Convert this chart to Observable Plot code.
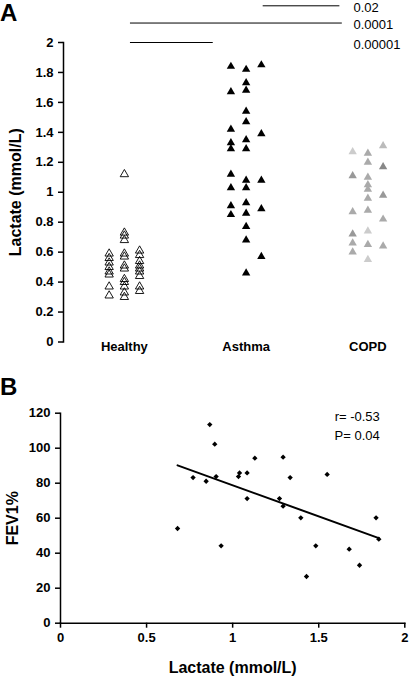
<!DOCTYPE html>
<html>
<head>
<meta charset="utf-8">
<script src="https://cdn.jsdelivr.net/npm/d3@7"></script>
<script src="https://cdn.jsdelivr.net/npm/@observablehq/plot@0.6"></script>
<style>
  html, body { margin: 0; padding: 0; background: #fff; }
  #wrap { position: relative; width: 412px; height: 680px; font-family: "Liberation Sans", Arial, sans-serif; }
  .panel { position: absolute; left: 0; font-weight: bold; font-size: 24px; line-height: 1; }
  #a svg, #b svg { display: block; overflow: visible; }
</style>
</head>
<body>
<div id="wrap">
  <div id="a"></div>
  <div id="b"></div>
  <div class="panel" style="top:1px;">A</div>
  <div class="panel" style="top:375px;">B</div>
</div>
<script>
// ---------- Panel A data ----------
const groups = ["Healthy", "Asthma", "COPD"];
const healthyLeft  = [0.59, 0.56, 0.53, 0.50, 0.47, 0.45, 0.37, 0.31];
const healthyMid   = [1.12, 0.73, 0.71, 0.68, 0.59, 0.57, 0.51, 0.49, 0.42, 0.40, 0.37, 0.33, 0.30];
const healthyRight = [0.61, 0.58, 0.54, 0.51, 0.49, 0.47, 0.44, 0.37, 0.34];
const asthmaLeft   = [1.84, 1.67, 1.42, 1.33, 1.29, 1.12, 1.03, 0.91, 0.85];
const asthmaMid    = [1.82, 1.73, 1.68, 1.54, 1.47, 1.35, 1.29, 1.08, 1.03, 0.93, 0.86, 0.77, 0.68, 0.46];
const asthmaRight  = [1.85, 1.39, 1.08, 0.89, 0.57];
const copdLeft     = [1.27, 1.11, 0.87, 0.72, 0.66, 0.60];
const copdMid      = [1.26, 1.20, 1.10, 1.05, 1.02, 0.96, 0.88, 0.74, 0.65, 0.55];
const copdRight    = [1.31, 1.17, 0.98, 0.82, 0.64];
const copdLeftShade  = ["#cccccc", "#999999", "#aaaaaa", "#999999", "#aaaaaa", "#aaaaaa"];
const copdMidShade   = ["#aaaaaa", "#aaaaaa", "#aaaaaa", "#aaaaaa", "#aaaaaa", "#aaaaaa", "#aaaaaa", "#cccccc", "#aaaaaa", "#cccccc"];
const copdRightShade = ["#bbbbbb", "#888888", "#999999", "#aaaaaa", "#aaaaaa"];
const yTicksA = [0, 0.2, 0.4, 0.6, 0.8, 1, 1.2, 1.4, 1.6, 1.8, 2];

// significance brackets (x in group units, y in mmol/L)
const sigLabels = ["0.02", "0.0001", "0.00001"];
const sigFrom   = [1.14, 0.05, 0.05];
const sigTo     = [1.77, 1.79, 0.73];
const sigLevel  = [2.245, 2.13, 2.0];

// ---------- Panel B data ----------
const bLactate = [0.68, 0.77, 0.846, 0.867, 0.896, 0.904, 0.933, 1.034, 1.04, 1.084, 1.084, 1.129,
                  1.272, 1.293, 1.293, 1.334, 1.396, 1.429, 1.483, 1.549, 1.677, 1.737, 1.833, 1.849];
const bFev1    = [54.1, 83.2, 81.1, 113.5, 102.3, 83.8, 44.2, 83.8, 85.9, 85.9, 71.2, 94.3,
                  71.2, 94.9, 66.9, 83.2, 60.2, 26.7, 44.2, 85.0, 42.3, 33.1, 60.2, 48.0];
const xTicksB = [0, 0.5, 1, 1.5, 2];
const yTicksB = [0, 20, 40, 60, 80, 100, 120];
const statsText = ["r= -0.53", "P= 0.04"];

// ---------- build tables ----------
const colOffset = 0.125;
function column(gi, side, values, fills) {
  return values.map((v, i) => ({x: gi + side * colOffset, y: v, fill: fills ? fills[i] : null}));
}
const healthy = [...column(0, -1, healthyLeft), ...column(0, 0, healthyMid), ...column(0, 1, healthyRight)];
const asthma  = [...column(1, -1, asthmaLeft), ...column(1, 0, asthmaMid), ...column(1, 1, asthmaRight)];
const copd    = [...column(2, -1, copdLeft, copdLeftShade), ...column(2, 0, copdMid, copdMidShade), ...column(2, 1, copdRight, copdRightShade)];
const sig = sigLabels.map((t, i) => ({label: t, x1: sigFrom[i], x2: sigTo[i], y: sigLevel[i]}));
const fev = bLactate.map((v, i) => ({lactate: v, fev1: bFev1[i]}));

const font = "'Liberation Sans', Arial, sans-serif";

const plotA = Plot.plot({
  width: 412, height: 360,
  marginLeft: 63, marginRight: 2, marginTop: 42, marginBottom: 18.5,
  style: {fontFamily: font, fontSize: "13px", background: "white", overflow: "visible"},
  x: {domain: [-0.5, 2.35]},
  y: {domain: [0, 2]},
  color: {type: "identity"},
  marks: [
    Plot.frame({anchor: "left", strokeWidth: 1.5}),
    Plot.axisY({ticks: yTicksA, tickFormat: d => String(d), tickSize: 5, tickPadding: 5,
                fontSize: 13, fontWeight: "bold", strokeWidth: 1.5, label: null}),
    Plot.axisX({ticks: [0, 1, 2], tickFormat: i => groups[i], tickSize: 0, tickPadding: 0,
                fontSize: 13, fontWeight: "bold", label: null}),
    Plot.text(["Lactate (mmol/L)"], {frameAnchor: "left", dx: -47.5, rotate: -90,
                fontSize: 16, fontWeight: "bold", textAnchor: "middle", lineAnchor: "middle"}),
    Plot.ruleY(sig, {x1: "x1", x2: "x2", y: "y", stroke: "black", strokeWidth: 1}),
    Plot.text(sig, {y: "y", text: "label", frameAnchor: "right", dx: -57, dy: 2, textAnchor: "start",
                lineAnchor: "middle", fontSize: 13}),
    Plot.dot(healthy, {x: "x", y: "y", symbol: "triangle", r: 3.1, fill: "none", stroke: "black", strokeWidth: 0.9}),
    Plot.dot(asthma, {x: "x", y: "y", symbol: "triangle", r: 3.1, fill: "black", stroke: "none"}),
    Plot.dot(copd, {x: "x", y: "y", symbol: "triangle", r: 3.1, fill: "fill", stroke: "none"})
  ]
});
document.getElementById("a").appendChild(plotA);

const plotB = Plot.plot({
  width: 412, height: 320,
  marginLeft: 60, marginRight: 7.7, marginTop: 52.7, marginBottom: 57.3,
  style: {fontFamily: font, fontSize: "13px", background: "white", overflow: "visible"},
  x: {domain: [0, 2]},
  y: {domain: [0, 120]},
  marks: [
    Plot.frame({anchor: "left", strokeWidth: 1.5}),
    Plot.frame({anchor: "bottom", strokeWidth: 1.5}),
    Plot.axisY({ticks: yTicksB, tickFormat: d => String(d), tickSize: 5, tickPadding: 5,
                fontSize: 13, fontWeight: "bold", strokeWidth: 1.5, label: null}),
    Plot.axisX({ticks: xTicksB, tickFormat: d => String(d), tickSize: 5, tickPadding: 5,
                fontSize: 13, fontWeight: "bold", strokeWidth: 1.5, label: null}),
    Plot.text(["FEV1%"], {frameAnchor: "left", dx: -47.5, rotate: -90,
                fontSize: 16, fontWeight: "bold", textAnchor: "middle", lineAnchor: "middle"}),
    Plot.text(["Lactate (mmol/L)"], {frameAnchor: "bottom", dy: 44.5,
                fontSize: 16, fontWeight: "bold", textAnchor: "middle", lineAnchor: "middle"}),
    Plot.text([statsText.join("\n")], {frameAnchor: "top-right", dx: -25, dy: 10.8,
                textAnchor: "end", lineAnchor: "middle", lineHeight: 1.46, fontSize: 13}),
    Plot.linearRegressionY(fev, {x: "lactate", y: "fev1", stroke: "black", strokeWidth: 2, ci: 0}),
    Plot.dot(fev, {x: "lactate", y: "fev1", symbol: d3.symbolDiamond2, r: 2.4, fill: "black", stroke: "none"})
  ]
});
document.getElementById("b").appendChild(plotB);
</script>
</body>
</html>
